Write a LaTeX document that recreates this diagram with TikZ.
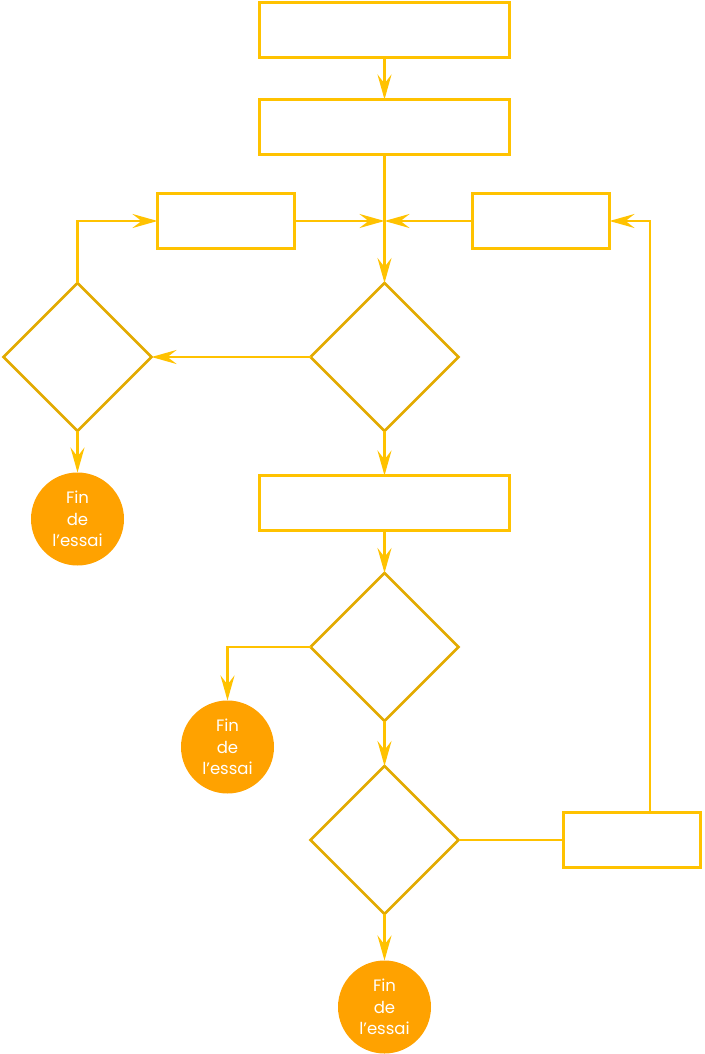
\documentclass[tikz,border=0pt]{standalone}
\usepackage{fontspec}
\usepackage{tikz}
\usetikzlibrary{positioning,arrows.meta,shapes.geometric}
\newfontfamily\poppins{Poppins}
\definecolor{boxline}{HTML}{FFC200}
\definecolor{tipline}{HTML}{E2AA00}
\definecolor{endfill}{HTML}{FFA200}

\begin{document}
\begin{tikzpicture}[
  x=1pt, y=1pt,
  stepbox/.style = {draw=boxline, line width=2.8pt, minimum width=250pt, minimum height=55pt,
                    inner sep=0pt, outer sep=0pt},
  sidebox/.style = {stepbox, minimum width=137pt},
  test/.style    = {diamond, draw=tipline, line width=2.8pt, minimum size=148pt,
                    inner sep=0pt, outer sep=0pt},
  stopdot/.style = {circle, fill=endfill, minimum size=93pt, inner sep=0pt, outer sep=0pt,
                    text=white, align=center, font=\poppins\fontsize{16.5}{21.5}\selectfont},
  flow/.style    = {-{Stealth[length=25pt, width=14pt, inset=9pt]}, line width=2.6pt, draw=boxline},
  link/.style    = {line width=2.6pt, draw=boxline},
]
\useasboundingbox (0,0) rectangle (704,-1054);

\node[stepbox] (b1) at (384.5,-30) {};
\node[stepbox, below=42pt of b1] (b2) {};
\node[sidebox] (bl) at (226,-221) {};
\node[sidebox] (br) at (541,-221) {};
\node[test] (d1) at (384.5,-357) {};
\node[test] (dl) at (77.5,-357) {};
\node[stopdot] (c1) at (77.5,-519) {Fin\\de\\l’essai};
\node[stepbox] (b3) at (384.5,-503) {};
\node[test] (d2) at (384.5,-647) {};
\node[stopdot] (c2) at (227.5,-747) {Fin\\de\\l’essai};
\node[test] (d3) at (384.5,-840) {};
\node[sidebox] (b4) at (632,-840) {};
\node[stopdot] (c3) at (384.5,-1007) {Fin\\de\\l’essai};

\draw[flow] (b1.south) -- (b2.north);
\draw[flow] (b2.south) -- (d1.north);
\draw[flow] (bl.east) -- (bl.east -| d1.north);
\draw[flow] (br.west) -- (br.west -| d1.north);
\draw[flow] (d1.west) -- (dl.east);
\draw[flow] (dl.north) |- (bl.west);
\draw[flow] (dl.south) -- (c1.north);
\draw[flow] (d1.south) -- (b3.north);
\draw[flow] (b3.south) -- (d2.north);
\draw[flow] (d2.west) -| (c2.north);
\draw[flow] (d2.south) -- (d3.north);
\draw[link] (d3.east) -- (b4.west);
\draw[flow] ([xshift=18pt]b4.north) |- (br.east);
\draw[flow] (d3.south) -- (c3.north);

\end{tikzpicture}
\end{document}
